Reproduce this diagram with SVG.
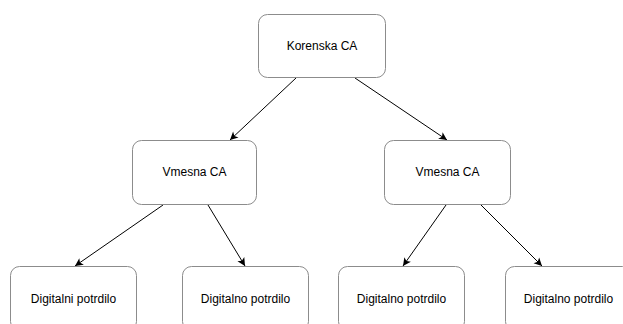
<svg xmlns="http://www.w3.org/2000/svg" width="623" height="324" viewBox="0 0 623 324">
<defs>
<marker id="arr" markerWidth="10" markerHeight="10" refX="9" refY="5" orient="auto" markerUnits="userSpaceOnUse">
<path d="M1,1 L9,5 L1,9 L3,5 Z" fill="#000"/>
</marker>
<style>
.box{fill:#fff;stroke:#8c8c8c;stroke-width:1}
.lbl{font-family:"Liberation Sans",Arial,sans-serif;font-size:12px;fill:#000;text-anchor:middle;dominant-baseline:central}
.edge{stroke:#000;stroke-width:1;fill:none;marker-end:url(#arr)}
</style>
</defs>
<rect width="623" height="324" fill="#fff"/>
<g id="connectors">
<line class="edge" x1="296" y1="78" x2="230" y2="140"/>
<line class="edge" x1="355" y1="78" x2="447" y2="140"/>
<line class="edge" x1="163" y1="205" x2="75" y2="266"/>
<line class="edge" x1="208" y1="205" x2="245" y2="266"/>
<line class="edge" x1="446" y1="205" x2="403" y2="266"/>
<line class="edge" x1="481" y1="205" x2="542" y2="266"/>
</g>
<g id="root">
<rect class="box" x="258.5" y="14.5" width="127" height="63" rx="9"/>
<text class="lbl" x="322" y="46">Korenska CA</text>
</g>
<g id="mid1">
<rect class="box" x="132.5" y="140.5" width="124" height="64" rx="9"/>
<text class="lbl" x="194.5" y="172">Vmesna CA</text>
</g>
<g id="mid2">
<rect class="box" x="384.5" y="140.5" width="126" height="64" rx="9"/>
<text class="lbl" x="447.5" y="172">Vmesna CA</text>
</g>
<g id="leaf1">
<rect class="box" x="10.5" y="266.5" width="126" height="64" rx="9"/>
<text class="lbl" x="73.5" y="299">Digitalni potrdilo</text>
</g>
<g id="leaf2">
<rect class="box" x="182.5" y="266.5" width="126" height="64" rx="9"/>
<text class="lbl" x="245.5" y="299">Digitalno potrdilo</text>
</g>
<g id="leaf3">
<rect class="box" x="338.5" y="266.5" width="126" height="64" rx="9"/>
<text class="lbl" x="401.5" y="299">Digitalno potrdilo</text>
</g>
<g id="leaf4">
<rect class="box" x="505.5" y="266.5" width="126" height="64" rx="9"/>
<text class="lbl" x="568.5" y="299">Digitalno potrdilo</text>
</g>
</svg>
